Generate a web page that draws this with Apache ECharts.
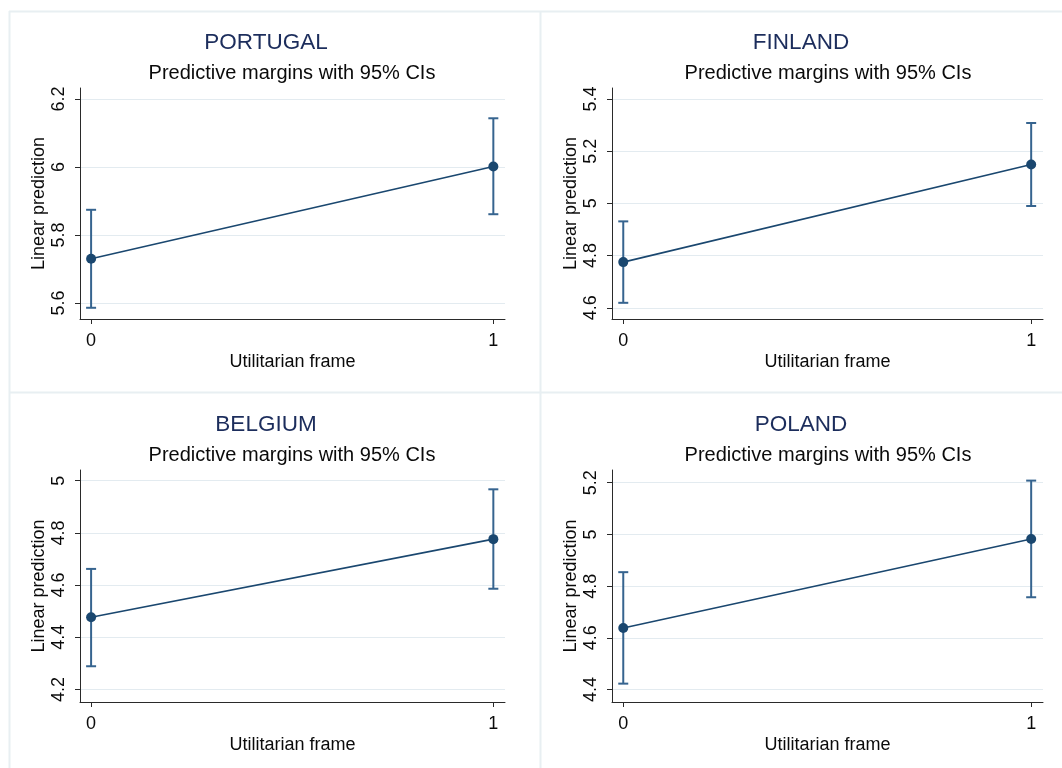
<!DOCTYPE html>
<html>
<head>
<meta charset="utf-8">
<script src="https://cdn.jsdelivr.net/npm/echarts@6/dist/echarts.min.js"></script>
<style>
  html, body { margin: 0; padding: 0; background: #ffffff; }
  #chart { width: 1062px; height: 768px; }
</style>
</head>
<body>
<div id="chart"></div>
<script>
// Predictive margins (linear prediction) by utilitarian frame, one panel per country
const countries = ['PORTUGAL', 'FINLAND', 'BELGIUM', 'POLAND'];
const frameLevels = [0, 1];
const margins = [[5.730, 6.001], [4.775, 5.149], [4.477, 4.776], [4.638, 4.982]];
const ciLower = [[5.586, 5.861], [4.619, 4.990], [4.289, 4.586], [4.423, 4.757]];
const ciUpper = [[5.874, 6.143], [4.931, 5.308], [4.662, 4.967], [4.854, 5.208]];
const yTickValues = [
  [5.6, 5.8, 6, 6.2],
  [4.6, 4.8, 5, 5.2, 5.4],
  [4.2, 4.4, 4.6, 4.8, 5],
  [4.4, 4.6, 4.8, 5, 5.2]
];
const yRanges = [[5.553, 6.232], [4.557, 5.442], [4.152, 5.041], [4.352, 5.249]];
const subtitleText = 'Predictive margins with 95% CIs';
const xAxisName = 'Utilitarian frame';
const yAxisName = 'Linear prediction';

// Layout of the 2x2 panels
const FONT = '"Liberation Sans", Arial, Helvetica, sans-serif';
const panelGrids = [
  { left: 80,  top: 88,  width: 425, height: 231 },
  { left: 612, top: 88,  width: 431, height: 231 },
  { left: 80,  top: 470, width: 425, height: 232 },
  { left: 612, top: 470, width: 431, height: 232 }
];
const titlePos = [
  { tx: 266, sx: 292, ty: 43,  sy: 73 },
  { tx: 801, sx: 828, ty: 43,  sy: 73 },
  { tx: 266, sx: 292, ty: 425, sy: 455 },
  { tx: 801, sx: 828, ty: 425, sy: 455 }
];
const lineColor = '#1a476f';
const ciColor = '#36648f';
const gridColor = '#e3ebf0';
const frameColor = '#e8eff2';
const axisColor = '#2a2a2a';
const textColor = '#0a0a0a';

const chart = echarts.init(document.getElementById('chart'), null, { renderer: 'canvas' });

const grid = panelGrids.map(g => Object.assign({ containLabel: false }, g));

const xAxis = countries.map((c, i) => ({
  type: 'value',
  gridIndex: i,
  min: -0.0276,
  max: 1.029,
  name: xAxisName,
  nameLocation: 'middle',
  nameGap: 34,
  nameTextStyle: { fontFamily: FONT, fontSize: 18, color: textColor },
  axisLine: { show: true, onZero: false, lineStyle: { color: axisColor, width: 1 } },
  axisTick: { show: true, length: 5, customValues: frameLevels, lineStyle: { color: axisColor } },
  axisLabel: {
    show: true, margin: 13, customValues: frameLevels,
    fontFamily: FONT, fontSize: 18, color: textColor,
    formatter: v => String(Math.round(v))
  },
  splitLine: { show: false }
}));

const yAxis = countries.map((c, i) => ({
  type: 'value',
  gridIndex: i,
  min: yRanges[i][0],
  max: yRanges[i][1],
  name: yAxisName,
  nameLocation: 'middle',
  nameRotate: 90,
  nameGap: 32,
  nameTextStyle: { fontFamily: FONT, fontSize: 18, color: textColor },
  axisLine: { show: true, onZero: false, lineStyle: { color: axisColor, width: 1 } },
  axisTick: { show: true, length: 5, customValues: yTickValues[i], lineStyle: { color: axisColor } },
  axisLabel: {
    show: true, rotate: 90, margin: 12, customValues: yTickValues[i],
    fontFamily: FONT, fontSize: 18, color: textColor,
    formatter: v => String(+v.toFixed(1))
  },
  splitLine: { show: true, lineStyle: { color: gridColor, width: 1.2 } }
}));

const series = [];
countries.forEach((c, i) => {
  // Confidence interval caps
  series.push({
    type: 'custom',
    xAxisIndex: i,
    yAxisIndex: i,
    data: frameLevels.map((x, j) => [x, ciLower[i][j], ciUpper[i][j]]),
    encode: { x: 0, y: [1, 2] },
    clip: false,
    renderItem: (params, api) => {
      const x = api.value(0);
      const lo = api.coord([x, api.value(1)]);
      const hi = api.coord([x, api.value(2)]);
      const hw = 5;
      const st = { stroke: ciColor, lineWidth: 2 };
      return {
        type: 'group',
        children: [
          { type: 'line', shape: { x1: lo[0], y1: lo[1], x2: hi[0], y2: hi[1] }, style: st },
          { type: 'line', shape: { x1: lo[0] - hw, y1: lo[1], x2: lo[0] + hw, y2: lo[1] }, style: st },
          { type: 'line', shape: { x1: hi[0] - hw, y1: hi[1], x2: hi[0] + hw, y2: hi[1] }, style: st }
        ]
      };
    },
    silent: true
  });
  // Margins connected by a line
  series.push({
    type: 'line',
    xAxisIndex: i,
    yAxisIndex: i,
    data: frameLevels.map((x, j) => [x, margins[i][j]]),
    symbol: 'circle',
    symbolSize: 10,
    showSymbol: true,
    clip: false,
    lineStyle: { color: lineColor, width: 1.6 },
    itemStyle: { color: lineColor },
    animation: false,
    silent: true
  });
});

// Titles, subtitles and panel frames
const graphic = [];
countries.forEach((c, i) => {
  const p = titlePos[i];
  graphic.push({
    type: 'text', x: p.tx, y: p.ty,
    style: { text: c, fontFamily: FONT, fontSize: 22.5, fill: '#1c2d5c', textAlign: 'center', textVerticalAlign: 'middle' }
  });
  graphic.push({
    type: 'text', x: p.sx, y: p.sy,
    style: { text: subtitleText, fontFamily: FONT, fontSize: 20, fill: textColor, textAlign: 'center', textVerticalAlign: 'middle' }
  });
});
const frameLines = [
  [9, 11.5, 1062, 11.5],
  [9, 392.5, 1062, 392.5],
  [9.5, 11, 9.5, 768],
  [540.5, 11, 540.5, 768]
];
frameLines.forEach(l => {
  graphic.push({
    type: 'line', z: -10,
    shape: { x1: l[0], y1: l[1], x2: l[2], y2: l[3] },
    style: { stroke: frameColor, lineWidth: 2 }
  });
});

chart.setOption({
  animation: false,
  backgroundColor: '#ffffff',
  grid,
  xAxis,
  yAxis,
  series,
  graphic
});
</script>
</body>
</html>
